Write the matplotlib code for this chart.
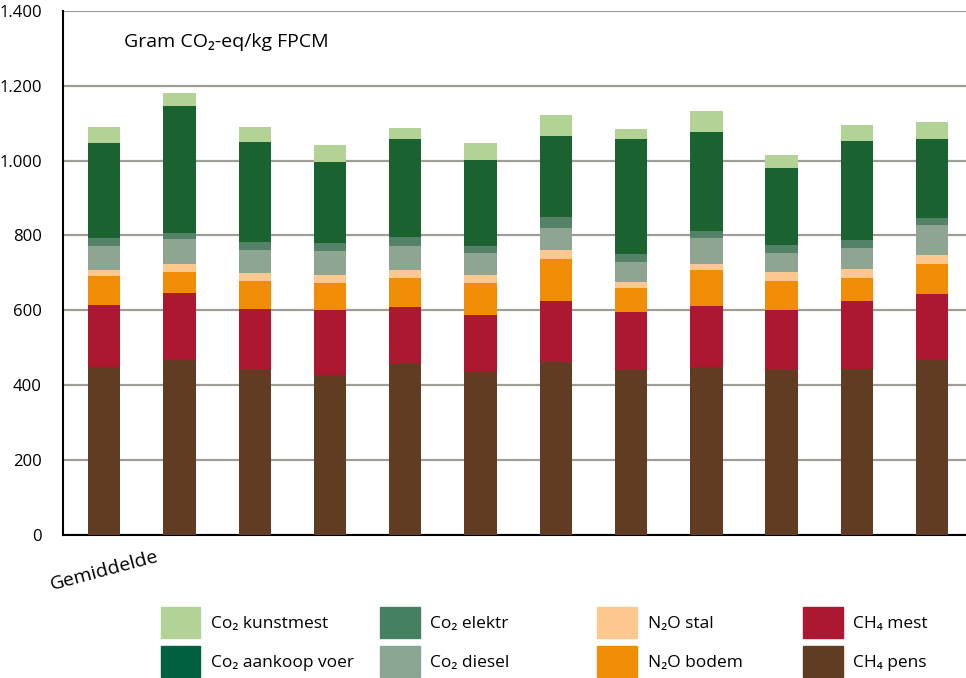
import matplotlib
matplotlib.use("Agg")
from matplotlib import pyplot as plt
from matplotlib.patches import Patch
from matplotlib.ticker import FuncFormatter
import numpy as np

plt.rcParams["font.family"] = ["Open Sans", "DejaVu Sans"]

labels = ["Gemiddelde"] + [""] * 11

ch4_pens = [449, 468, 441, 427, 457, 438, 462, 441, 449, 441, 443, 467]
ch4_mest = [165, 178, 162, 174, 152, 149, 163, 154, 162, 160, 182, 177]
n2o_bodem = [78, 56, 75, 72, 77, 86, 112, 65, 97, 77, 61, 80]
n2o_stal = [16, 22, 22, 21, 22, 21, 24, 16, 16, 24, 24, 24]
co2_diesel = [64, 66, 61, 64, 64, 59, 59, 53, 69, 51, 56, 80]
co2_elektr = [22, 16, 21, 22, 24, 19, 29, 21, 19, 21, 22, 18]
co2_aankoop = [253, 339, 267, 216, 261, 229, 216, 307, 264, 206, 264, 211]
co2_kunstmest = [42, 35, 40, 45, 30, 46, 56, 27, 56, 35, 43, 46]

# bottom to top
series = [
    (ch4_pens, "#603d22"),
    (ch4_mest, "#ab1830"),
    (n2o_bodem, "#f08c05"),
    (n2o_stal, "#fcc890"),
    (co2_diesel, "#8ea591"),
    (co2_elektr, "#538266"),
    (co2_aankoop, "#1a6230"),
    (co2_kunstmest, "#b2d296"),
]

fig = plt.figure(figsize=(9.66, 6.78), dpi=100)
ax = fig.add_axes([0.065, 0.211, 0.935, 0.773])

x = np.arange(len(labels))
bottom = np.zeros(len(labels))
for vals, col in series:
    ax.bar(x, vals, 0.43, bottom=bottom, color=col, zorder=3)
    bottom += np.array(vals)

ax.set_xlim(-0.55, 11.45)
ax.set_ylim(0, 1400)
ax.set_yticks(range(0, 1401, 200))
ax.yaxis.set_major_formatter(FuncFormatter(lambda v, p: "{:,}".format(int(v)).replace(",", ".")))
ax.grid(axis="y", color="#a09c98", linewidth=1.6, zorder=0)
ax.tick_params(axis="y", length=0, pad=15, labelsize=12)
ax.set_xticks(x)
ax.set_xticklabels(labels, rotation=15, ha="center", fontsize=14)
ax.tick_params(axis="x", length=0, pad=9)
for s in ["top", "right"]:
    ax.spines[s].set_visible(False)
ax.spines["left"].set_linewidth(1.5)
ax.spines["bottom"].set_linewidth(1.5)

ax.text(0.068, 0.957, "Gram CO\u2082-eq/kg FPCM", transform=ax.transAxes,
        fontsize=14, va="top", ha="left")

handles = [
    Patch(color="#b2d296", label="Co\u2082 kunstmest"),
    Patch(color="#006040", label="Co\u2082 aankoop voer"),
    Patch(color="#458060", label="Co\u2082 elektr"),
    Patch(color="#8aa591", label="Co\u2082 diesel"),
    Patch(color="#fcc890", label="N\u2082O stal"),
    Patch(color="#f08c05", label="N\u2082O bodem"),
    Patch(color="#ab1830", label="CH\u2084 mest"),
    Patch(color="#603d22", label="CH\u2084 pens"),
]
col_x = [0.150, 0.377, 0.602, 0.815]
for i, cx in enumerate(col_x):
    leg = fig.legend(handles=handles[2 * i:2 * i + 2], loc="upper left",
                     bbox_to_anchor=(cx, 0.128), frameon=False, fontsize=12.5,
                     handlelength=2.3, handleheight=2.4, labelspacing=0.45,
                     handletextpad=0.6)

fig.savefig("out.png", dpi=100)
